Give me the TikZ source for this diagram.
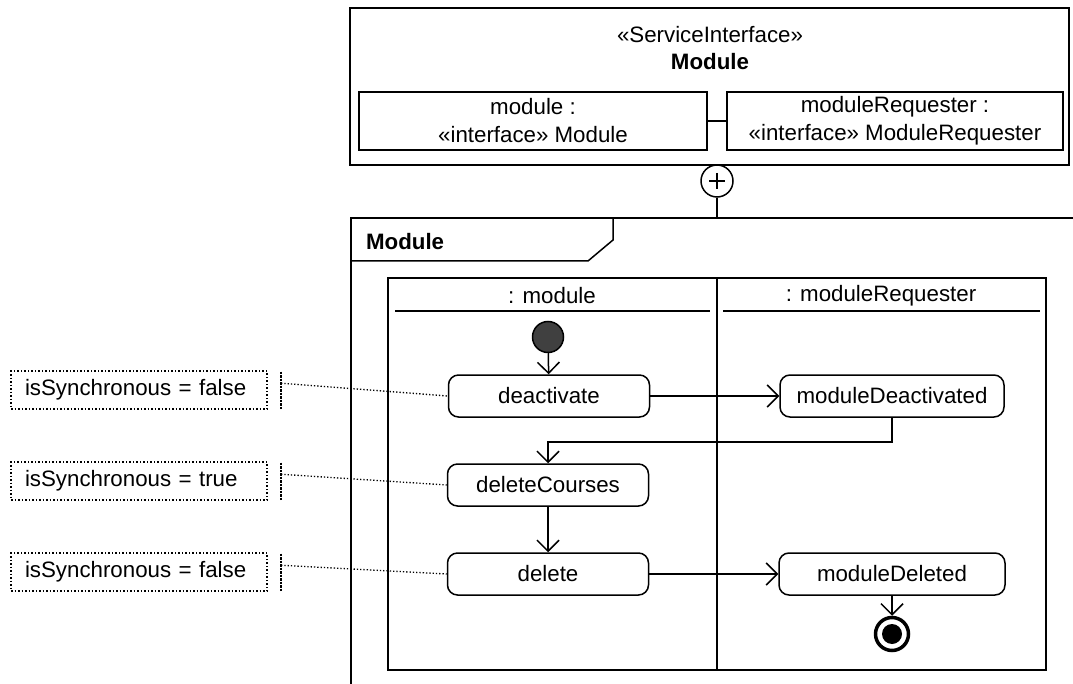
\documentclass[tikz,border=0pt]{standalone}
\usepackage{fontspec}
\setmainfont{Liberation Sans}
\usetikzlibrary{arrows.meta}

\tikzset{
	action/.style={draw, line width=1.5pt, rounded corners=10pt, minimum height=42pt, inner sep=0pt},
	part/.style={draw, line width=1.5pt, minimum height=58pt, align=center, inner sep=0pt},
	note/.style={draw, dotted, line width=1.5pt, text width=228pt, inner xsep=14pt, inner ysep=0pt, minimum height=38pt, align=left},
	notebar/.style={draw, dotted, line width=1.5pt, minimum width=0pt, minimum height=38pt, inner sep=0pt},
	notelink/.style={dotted, line width=1.3pt},
	flow/.style={line width=1.5pt, -{Straight Barb[length=11pt, width=22pt, line width=1.5pt]}}
}

\begin{document}
\begin{tikzpicture}[x=1pt, y=-1pt, line width=1.5pt, every node/.style={font=\fontsize{22.3}{28}\selectfont}]
	\useasboundingbox (0,0) rectangle (1073,684);
	% service interface
	\draw (350,8) rectangle (1069,165);
	\node (stereo) at (710,35) {«ServiceInterface»};
	\node[font=\fontsize{22.3}{28}\selectfont\bfseries] (svc) at (710,62) {Module};
	\node[part, minimum width=348pt] (modpart) at (533,121) {module :\\«interface» Module};
	\node[part, minimum width=336pt] (reqpart) at (895,121) {moduleRequester :\\«interface» ModuleRequester};
	\draw (modpart) -- (reqpart);
	% nesting
	\node[draw, circle, minimum size=32pt, inner sep=0pt] (plus) at (717,181) {};
	\draw (plus.center) ++(-8,0) -- ++(16,0);
	\draw (plus.center) ++(0,-8) -- ++(0,16);
	\coordinate (frametop) at (717,218);
	\draw (plus) -- (frametop);
	% frame
	\draw (1073,218) -- (351,218) -- (351,684);
	\draw (351,261) -- (588,261) -- (613,240) -- (613,218);
	\node[font=\fontsize{22.3}{28}\selectfont\bfseries, anchor=west] (framelabel) at (362,242) {Module};
	% partitions
	\draw[line width=2pt] (388,278) rectangle (1046,670);
	\draw[line width=2pt] (717,278) -- (717,670);
	\node (lane1) at (552,296) {: module};
	\node (lane2) at (881,296) {: moduleRequester};
	\draw[line width=2pt] (395,311) -- (710,311);
	\draw[line width=2pt] (723,311) -- (1040,311);
	% actions
	\node[draw, circle, fill=black!75, minimum size=31pt, inner sep=0pt] (start) at (548,337) {};
	\node[action, minimum width=201pt] (deactivate) at (549,396) {deactivate};
	\node[action, minimum width=224pt] (moddeact) at (892,396) {moduleDeactivated};
	\node[action, minimum width=201pt] (delcourses) at (548,485) {deleteCourses};
	\node[action, minimum width=201pt] (delete) at (548,574) {delete};
	\node[action, minimum width=226pt] (moddeleted) at (892,574) {moduleDeleted};
	\node[draw, circle, line width=3.5pt, minimum size=33pt, inner sep=0pt] (end) at (892,634) {};
	\fill (end.center) circle (10pt);
	\draw[flow] (start) -- (deactivate);
	\draw[flow] (deactivate) -- (moddeact);
	\draw[flow] (moddeact.south) -- ++(0,24) -| (delcourses.north);
	\draw[flow] (delcourses) -- (delete);
	\draw[flow] (delete) -- (moddeleted);
	\draw[flow] (moddeleted) -- (end);
	% notes
	\node[note] (note1) at (139,390) {isSynchronous = false};
	\node[note] (note2) at (139,481) {isSynchronous = true};
	\node[note] (note3) at (139,572) {isSynchronous = false};
	\node[notebar] (bar1) at (281,390) {};
	\node[notebar] (bar2) at (281,481) {};
	\node[notebar] (bar3) at (281,572) {};
	\draw[notelink] (bar1.north) ++(0,13) -- (deactivate.west);
	\draw[notelink] (bar2.north) ++(0,13) -- (delcourses.west);
	\draw[notelink] (bar3.north) ++(0,13) -- (delete.west);
\end{tikzpicture}
\end{document}
